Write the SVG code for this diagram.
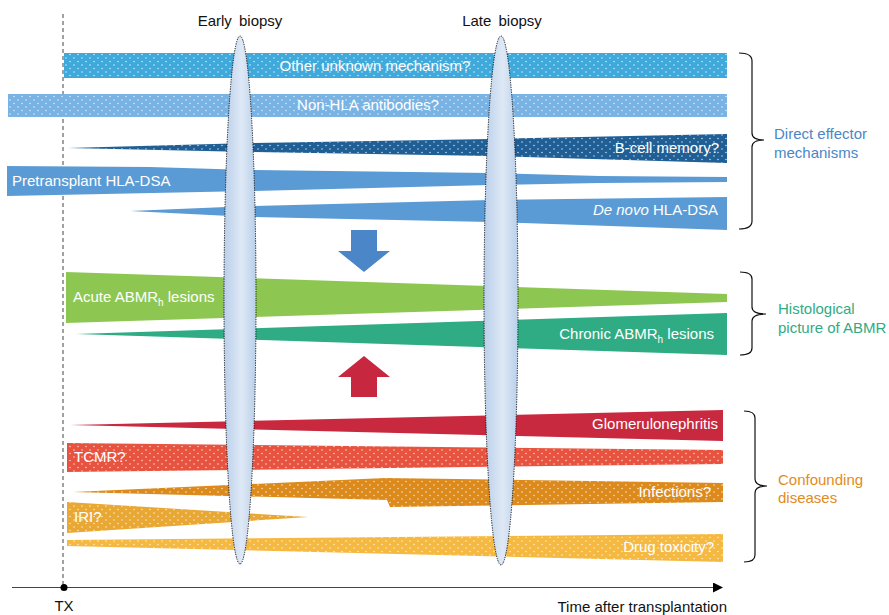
<svg xmlns="http://www.w3.org/2000/svg" width="889" height="615" viewBox="0 0 889 615">
<defs>
<pattern id="dots" width="8" height="7" patternUnits="userSpaceOnUse">
<circle cx="2" cy="2" r="0.75" fill="#fff" opacity="0.8"/>
<circle cx="6" cy="5.5" r="0.75" fill="#fff" opacity="0.8"/>
</pattern>
<linearGradient id="lens" x1="0" y1="0" x2="1" y2="0">
<stop offset="0" stop-color="#b9cfe9"/>
<stop offset="0.55" stop-color="#dfe9f6"/>
<stop offset="1" stop-color="#b9cfe9"/>
</linearGradient>
<marker id="axisHead" markerWidth="10" markerHeight="10" refX="9" refY="5" orient="auto" markerUnits="userSpaceOnUse">
<path d="M0,0 L10,5 L0,10 Z" fill="#000"/>
</marker>
</defs>
<style>
text{font-family:"Liberation Sans",Arial,sans-serif;font-size:15px}
.w{fill:#fff}
.k{fill:#111}
.dot{fill:url(#dots)}
.lens{fill:url(#lens);stroke:#111;stroke-width:1;stroke-dasharray:1.2 1.2}
.brace{fill:none;stroke:#111;stroke-width:1.2}
</style>
<rect width="889" height="615" fill="#fff"/>

<!-- TX dashed line and time axis -->
<g id="axis">
<line x1="63" y1="14" x2="63" y2="587" stroke="#444" stroke-width="1" stroke-dasharray="4 3"/>
<line x1="12" y1="587.5" x2="722" y2="587.5" stroke="#444" stroke-width="1.2" marker-end="url(#axisHead)"/>
<circle cx="64" cy="587.5" r="3.5" fill="#000"/>
<text x="64" y="611" text-anchor="middle" class="k">TX</text>
<text x="727" y="612" text-anchor="end" class="k">Time after transplantation</text>
</g>

<!-- Direct effector mechanisms -->
<g id="other-unknown">
<rect x="64" y="53" width="663" height="25" fill="#3fa9db"/>
<rect x="64" y="53" width="663" height="25" class="dot"/>
<text x="375" y="71" text-anchor="middle" class="w">Other unknown mechanism?</text>
</g>
<g id="non-hla">
<rect x="8" y="94" width="719" height="23" fill="#79b3e4"/>
<rect x="8" y="94" width="719" height="23" class="dot"/>
<text x="368" y="110" text-anchor="middle" class="w">Non-HLA antibodies?</text>
</g>
<g id="b-cell">
<polygon points="68,148 250,143 490,139 727,134 727,163 490,156 250,152" fill="#1f5f95"/>
<polygon points="68,148 250,143 490,139 727,134 727,163 490,156 250,152" class="dot"/>
<text x="719" y="153" text-anchor="end" class="w">B-cell memory?</text>
</g>
<g id="pretransplant">
<polygon points="7,166 150,167 250,170 490,173 600,176 727,177 727,182 600,183 490,185 250,191 7,196" fill="#5b9bd5"/>
<text x="12" y="186" class="w">Pretransplant HLA-DSA</text>
</g>
<g id="de-novo">
<polygon points="130,211 250,206 490,200 727,197 727,230 490,222 250,217" fill="#5b9bd5"/>
<text x="718" y="215" text-anchor="end" class="w"><tspan font-style="italic">De novo</tspan> HLA-DSA</text>
</g>

<!-- Block arrows -->
<g id="arrow-down">
<polygon points="351,230 377,230 377,251 390,251 364,272 338,251 351,251" fill="#4a86c8"/>
</g>

<!-- Histological picture -->
<g id="acute">
<polygon points="66,272 727,294 727,302 66,323" fill="#8dc752"/>
<text x="73" y="302" class="w">Acute ABMR<tspan font-size="10" dy="4">h</tspan><tspan dy="-4"> lesions</tspan></text>
</g>
<g id="chronic">
<polygon points="76,334 727,313 727,355" fill="#2fac84"/>
<text x="714" y="339" text-anchor="end" class="w">Chronic ABMR<tspan font-size="10" dy="4">h</tspan><tspan dy="-4"> lesions</tspan></text>
</g>

<g id="arrow-up">
<polygon points="364,356 390,377 377,377 377,397 351,397 351,377 338,377" fill="#c8283f"/>
</g>

<!-- Confounding diseases -->
<g id="glomerulonephritis">
<polygon points="70,425 723,410 723,441" fill="#c8293f"/>
<text x="718" y="429" text-anchor="end" class="w">Glomerulonephritis</text>
</g>
<g id="tcmr">
<polygon points="67,443 723,450 723,464 67,472" fill="#e8533f"/>
<polygon points="67,443 723,450 723,464 67,472" class="dot"/>
<text x="74" y="462" class="w">TCMR?</text>
</g>
<g id="infections">
<polygon points="73,492 385,478 723,483 723,502 390,507 387,500" fill="#dc8a1b"/>
<polygon points="73,492 385,478 723,483 723,502 390,507 387,500" class="dot"/>
<text x="711" y="497" text-anchor="end" class="w">Infections?</text>
</g>
<g id="iri">
<polygon points="67,502 308,517 67,533" fill="#e9a733"/>
<polygon points="67,502 308,517 67,533" class="dot"/>
<text x="74" y="522" class="w">IRI?</text>
</g>
<g id="drug-toxicity">
<polygon points="67,540 723,534 723,562 67,546" fill="#f5b942"/>
<polygon points="67,540 723,534 723,562 67,546" class="dot"/>
<text x="714" y="552" text-anchor="end" class="w">Drug toxicity?</text>
</g>

<!-- Biopsy lenses -->
<g id="early-biopsy">
<ellipse cx="240" cy="300" rx="16" ry="264" class="lens"/>
<text x="240" y="26" text-anchor="middle" class="k" word-spacing="3">Early biopsy</text>
</g>
<g id="late-biopsy">
<ellipse cx="501" cy="300.5" rx="17" ry="264.5" class="lens"/>
<text x="502" y="26" text-anchor="middle" class="k" word-spacing="3">Late biopsy</text>
</g>

<!-- Braces and group labels -->
<g id="connectors">
<path class="brace" d="M739,53 Q752,53 752,61 L752,133 Q752,140 764,140 Q752,140 752,147 L752,221 Q752,229 739,229"/>
<path class="brace" d="M740,272 Q752,272 752,279 L752,307 Q752,314 766,314 Q752,314 752,321 L752,348 Q752,355 740,355"/>
<path class="brace" d="M744,411 Q755,411 755,418 L755,479 Q755,486 767,486 Q755,486 755,493 L755,555 Q755,562 744,562"/>
</g>
<g id="label-direct">
<text x="774" y="139" fill="#4a86c8">Direct effector</text>
<text x="774" y="158" fill="#4a86c8">mechanisms</text>
</g>
<g id="label-histological">
<text x="778" y="314" fill="#2fac84">Histological</text>
<text x="778" y="333" fill="#2fac84">picture of ABMR</text>
</g>
<g id="label-confounding">
<text x="778" y="485" fill="#e28c21">Confounding</text>
<text x="778" y="503" fill="#e28c21">diseases</text>
</g>
</svg>
